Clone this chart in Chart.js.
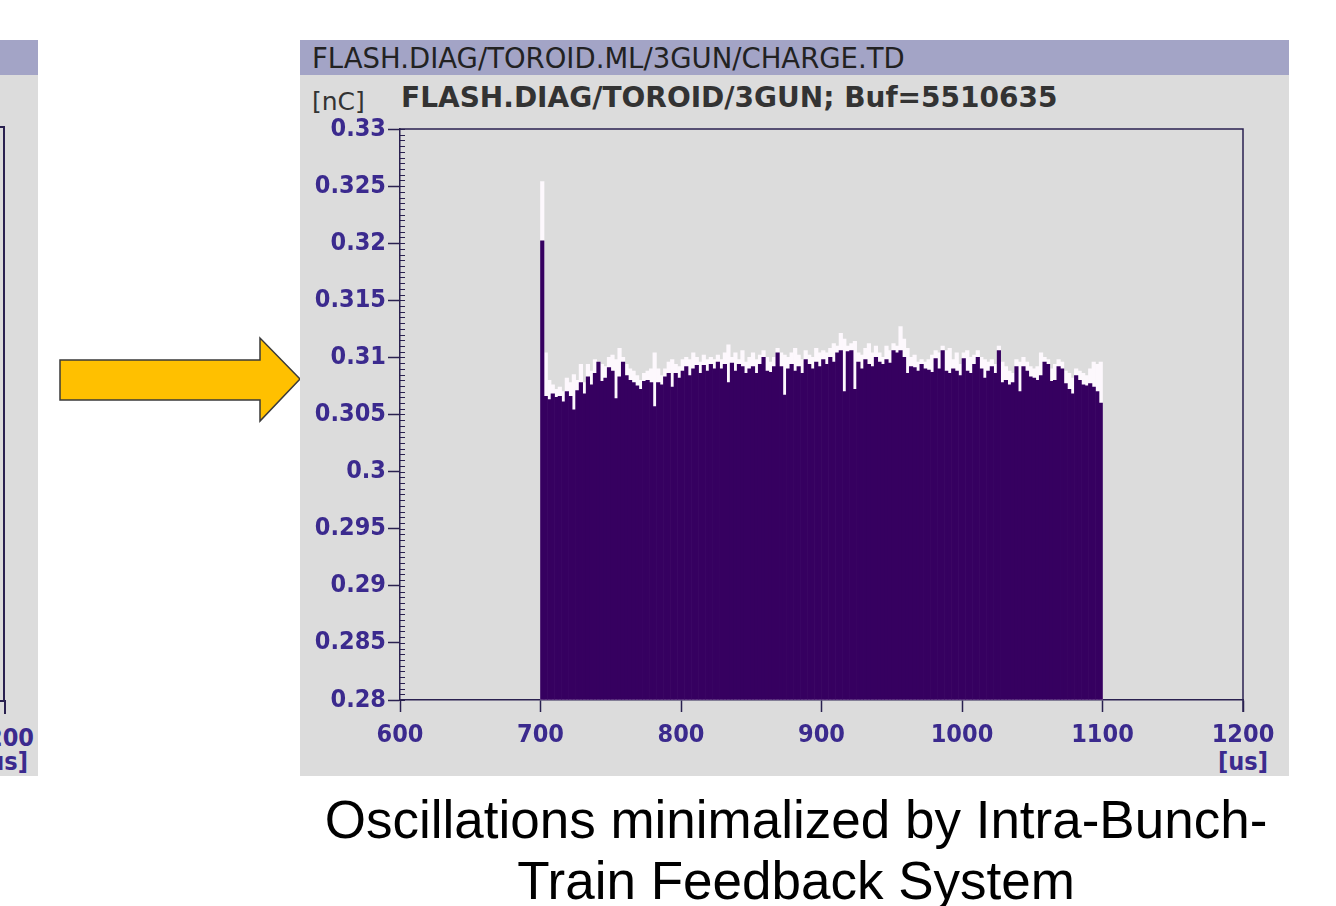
<!DOCTYPE html>
<html>
<head>
<meta charset="utf-8">
<script src="https://cdn.jsdelivr.net/npm/chart.js@4.4.1/dist/chart.umd.min.js"></script>
<style>
  body { margin: 0; width: 1336px; height: 906px; background: #fff; position: relative; overflow: hidden;
         font-family: "Liberation Sans", Arial, sans-serif; }
  .panel { position: absolute; background: #dcdcdc; overflow: hidden; }
  .hdr { position: absolute; left: 0; top: 0; right: 0; height: 35px; background: #a3a4c6; }
  .hdr span { position: absolute; left: 12px; top: 2px; font: 27.5px "DejaVu Sans", sans-serif; color: #222; white-space: nowrap; }
  .unit { position: absolute; font: 25px "DejaVu Sans", sans-serif; color: #333; }
  .title { position: absolute; font: bold 28px "DejaVu Sans", sans-serif; color: #333; white-space: nowrap; }
  .ax { position: absolute; font: bold 25px "DejaVu Sans Condensed", "DejaVu Sans", sans-serif; color: #3b2a8e; white-space: nowrap; }
  #caption { position: absolute; left: 300px; width: 992px; top: 789px; text-align: center;
             font: 53px "Liberation Sans", Arial, sans-serif; line-height: 61px; color: #000; }
</style>
</head>
<body>

<!-- cut-off panel on the left -->
<div class="panel" style="left:0;top:40px;width:38px;height:736px;">
  <div class="hdr"></div>
  <div style="position:absolute;left:-10px;top:86px;width:13px;height:574px;border-top:2px solid #2a2150;border-right:2px solid #2a2150;"></div>
  <div style="position:absolute;left:0;top:660px;width:4px;height:12px;border-top:2px solid #2a2150;border-right:2px solid #2a2150;"></div>
  <div class="ax" style="right:4px;top:683px;">1200</div>
  <div class="ax" style="right:10px;top:707px;">[us]</div>
</div>

<svg style="position:absolute;left:0;top:0" width="320" height="460">
  <polygon points="60,360 260,360 260,338 300,379 260,421 260,400 60,400"
           fill="#ffc000" stroke="#3a3a3a" stroke-width="1.5"/>
</svg>

<div class="panel" style="left:300px;top:40px;width:989px;height:736px;">
  <div class="hdr"><span>FLASH.DIAG/TOROID.ML/3GUN/CHARGE.TD</span></div>
  <div class="unit" style="left:12px;top:47px;">[nC]</div>
  <div class="title" style="left:101px;top:41px;">FLASH.DIAG/TOROID/3GUN; Buf=5510635</div>
  <div class="ax" style="left:918px;top:707px;width:50px;text-align:center;">[us]</div>
  <canvas id="c" width="989" height="736" style="position:absolute;left:0;top:0;"></canvas>
</div>

<div id="caption">Oscillations minimalized by Intra-Bunch-<br>Train Feedback System</div>

<script>
// bunch train, one bar per 2.5 us from 700 us
const BUNCH_START = 700;
const BUNCH_STEP = 2.5;

// charge per bunch [nC] (dark bars)
const chargeNow = [
  0.3202, 0.3066, 0.3063, 0.3068, 0.3065, 0.3066, 0.3061, 0.3070, 0.3066, 0.3054,
  0.3071, 0.3078, 0.3068, 0.3083, 0.3076, 0.3086, 0.3096, 0.3079, 0.3082, 0.3091,
  0.3088, 0.3064, 0.3083, 0.3096, 0.3084, 0.3080, 0.3078, 0.3075, 0.3072, 0.3079,
  0.3080, 0.3078, 0.3057, 0.3078, 0.3076, 0.3083, 0.3086, 0.3074, 0.3086, 0.3082,
  0.3088, 0.3092, 0.3084, 0.3090, 0.3093, 0.3086, 0.3093, 0.3088, 0.3094, 0.3090,
  0.3096, 0.3090, 0.3094, 0.3078, 0.3095, 0.3088, 0.3094, 0.3092, 0.3086, 0.3090,
  0.3092, 0.3086, 0.3094, 0.3100, 0.3088, 0.3087, 0.3092, 0.3104, 0.3092, 0.3067,
  0.3090, 0.3094, 0.3088, 0.3092, 0.3086, 0.3098, 0.3094, 0.3090, 0.3096, 0.3092,
  0.3098, 0.3094, 0.3100, 0.3096, 0.3104, 0.3106, 0.3070, 0.3105, 0.3106, 0.3072,
  0.3096, 0.3090, 0.3098, 0.3094, 0.3092, 0.3100, 0.3096, 0.3094, 0.3098, 0.3095,
  0.3106, 0.3104, 0.3106, 0.3100, 0.3086, 0.3092, 0.3091, 0.3088, 0.3094, 0.3090,
  0.3089, 0.3087, 0.3099, 0.3090, 0.3106, 0.3088, 0.3086, 0.3090, 0.3088, 0.3084,
  0.3099, 0.3088, 0.3086, 0.3094, 0.3100, 0.3090, 0.3082, 0.3088, 0.3092, 0.3086,
  0.3106, 0.3078, 0.3080, 0.3076, 0.3078, 0.3092, 0.3070, 0.3092, 0.3088, 0.3083,
  0.3082, 0.3080, 0.3084, 0.3096, 0.3094, 0.3079, 0.3080, 0.3092, 0.3090, 0.3077,
  0.3072, 0.3068, 0.3084, 0.3080, 0.3076, 0.3075, 0.3077, 0.3074, 0.3070, 0.3060
];

// reference / peak charge per bunch [nC] (white bars behind)
const chargeRef = [
  0.3254, 0.3104, 0.3080, 0.3076, 0.3072, 0.3074, 0.3070, 0.3082, 0.3078, 0.3085,
  0.3080, 0.3094, 0.3078, 0.3094, 0.3088, 0.3098, 0.3096, 0.3094, 0.3092, 0.3100,
  0.3102, 0.3098, 0.3108, 0.3100, 0.3094, 0.3090, 0.3088, 0.3084, 0.3080, 0.3086,
  0.3088, 0.3090, 0.3104, 0.3090, 0.3084, 0.3090, 0.3096, 0.3098, 0.3094, 0.3092,
  0.3098, 0.3100, 0.3098, 0.3104, 0.3100, 0.3096, 0.3102, 0.3098, 0.3100, 0.3098,
  0.3102, 0.3098, 0.3104, 0.3111, 0.3100, 0.3104, 0.3098, 0.3106, 0.3096, 0.3100,
  0.3104, 0.3098, 0.3102, 0.3106, 0.3100, 0.3096, 0.3100, 0.3108, 0.3104, 0.3102,
  0.3100, 0.3104, 0.3108, 0.3102, 0.3098, 0.3106, 0.3102, 0.3100, 0.3108, 0.3104,
  0.3106, 0.3104, 0.3108, 0.3112, 0.3110, 0.3121, 0.3116, 0.3110, 0.3112, 0.3114,
  0.3104, 0.3102, 0.3108, 0.3112, 0.3104, 0.3110, 0.3104, 0.3100, 0.3110, 0.3106,
  0.3112, 0.3110, 0.3127, 0.3116, 0.3108, 0.3100, 0.3102, 0.3096, 0.3098, 0.3096,
  0.3098, 0.3102, 0.3106, 0.3104, 0.3110, 0.3106, 0.3108, 0.3098, 0.3104, 0.3094,
  0.3104, 0.3106, 0.3100, 0.3102, 0.3106, 0.3100, 0.3098, 0.3096, 0.3098, 0.3094,
  0.3110, 0.3096, 0.3092, 0.3088, 0.3086, 0.3098, 0.3096, 0.3100, 0.3096, 0.3092,
  0.3090, 0.3092, 0.3104, 0.3100, 0.3098, 0.3090, 0.3094, 0.3098, 0.3096, 0.3088,
  0.3086, 0.3082, 0.3090, 0.3088, 0.3086, 0.3084, 0.3090, 0.3096, 0.3094, 0.3096
];

const X_MIN = 600, X_MAX = 1200, X_STEP = 100;
const Y_MIN = 0.28, Y_MAX = 0.33, Y_STEP = 0.005, Y_MINOR = 0.0005;

const AXIS_COLOR = '#2a2150';
const LABEL_COLOR = '#3b2a8e';
const labelFont = { family: "'DejaVu Sans Condensed', 'DejaVu Sans', sans-serif", size: 25, weight: 'bold' };

const bunchTimes = chargeNow.map((_, i) => BUNCH_START + BUNCH_STEP * (i + 0.5));
const toPoints = arr => arr.map((v, i) => ({ x: bunchTimes[i], y: v }));

// frame on top/right and small minor ticks on the left axis
const framePlugin = {
    id: 'frame',
    afterDraw(chart) {
        const { ctx, chartArea: a, scales } = chart;
        ctx.save();
        ctx.strokeStyle = AXIS_COLOR;
        ctx.lineWidth = 1.5;
        ctx.beginPath();
        ctx.moveTo(a.left, a.top);
        ctx.lineTo(a.right, a.top);
        ctx.lineTo(a.right, a.bottom + 12);
        ctx.stroke();
        ctx.lineWidth = 1;
        const n = Math.round((Y_MAX - Y_MIN) / Y_MINOR);
        ctx.beginPath();
        for (let k = 0; k <= n; k++) {
            const y = Math.round(scales.y.getPixelForValue(Y_MIN + k * Y_MINOR)) + 0.5;
            ctx.moveTo(a.left, y);
            ctx.lineTo(a.left + 5, y);
        }
        ctx.stroke();
        ctx.restore();
    }
};

new Chart(document.getElementById('c'), {
    type: 'bar',
    data: {
        datasets: [{
            label: 'charge',
            data: toPoints(chargeNow),
            backgroundColor: '#360060',
            base: Y_MIN,
            borderWidth: 0
        }, {
            label: 'reference',
            data: toPoints(chargeRef),
            backgroundColor: '#fdf8fd',
            base: Y_MIN,
            borderWidth: 0
        }]
    },
    options: {
        responsive: false,
        animation: false,
        grouped: false,
        barPercentage: 1,
        categoryPercentage: 1,
        layout: { padding: { top: 89, right: 46, left: 0, bottom: 0 } },
        plugins: {
            legend: { display: false },
            tooltip: { enabled: false }
        },
        scales: {
            x: {
                type: 'linear',
                min: X_MIN,
                max: X_MAX,
                offset: false,
                afterFit: s => { s.height = 76; },
                ticks: {
                    stepSize: X_STEP,
                    autoSkip: false,
                    maxRotation: 0,
                    padding: 8,
                    color: LABEL_COLOR,
                    font: labelFont,
                    callback: v => String(v)
                },
                grid: { offset: false, drawOnChartArea: false, drawTicks: true, tickLength: 12, tickColor: AXIS_COLOR, tickWidth: 1.5 },
                border: { color: AXIS_COLOR, width: 1.5 }
            },
            y: {
                min: Y_MIN,
                max: Y_MAX,
                afterFit: s => { s.width = 100; },
                ticks: {
                    stepSize: Y_STEP,
                    padding: 2,
                    color: LABEL_COLOR,
                    font: labelFont,
                    callback: v => String(Number(v.toFixed(3)))
                },
                grid: { drawOnChartArea: false, drawTicks: true, tickLength: 12, tickColor: AXIS_COLOR, tickWidth: 1.5 },
                border: { color: AXIS_COLOR, width: 1.5 }
            }
        }
    },
    plugins: [framePlugin]
});
</script>
</body>
</html>
